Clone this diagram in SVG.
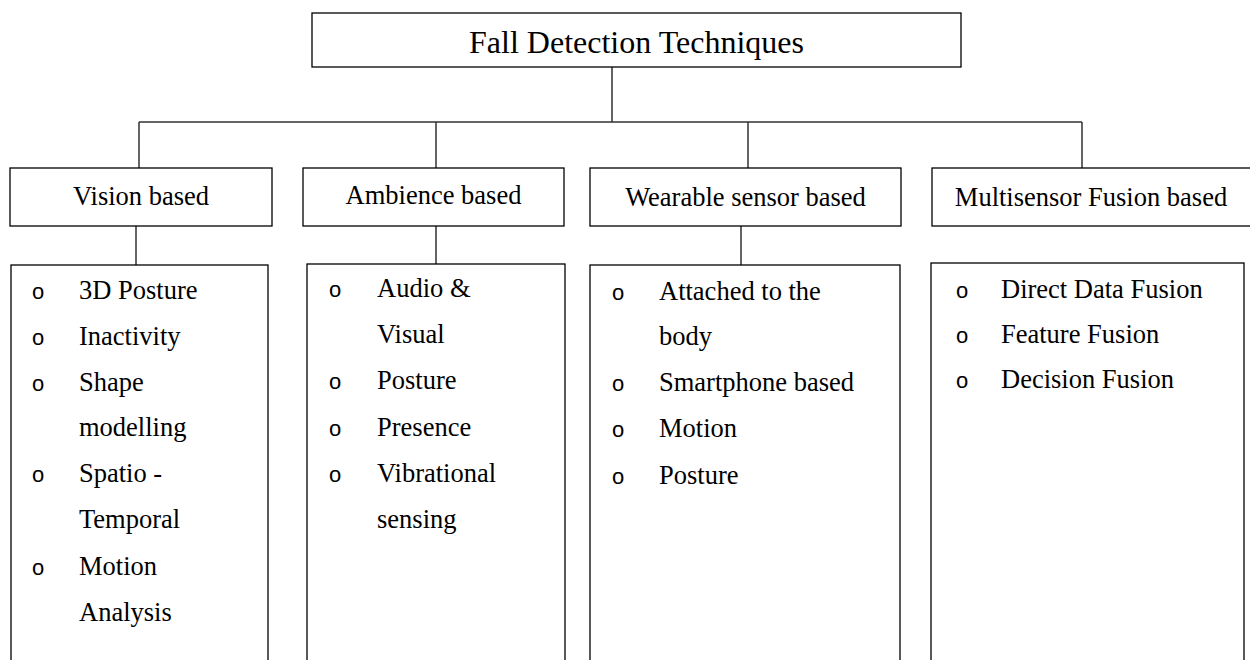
<svg xmlns="http://www.w3.org/2000/svg" width="1250" height="660" viewBox="0 0 1250 660">
<style>
.box{fill:#fff;stroke:#000;stroke-width:1.3}
.conn{fill:none;stroke:#333;stroke-width:1.5}
.t{font-family:"Liberation Serif","Times New Roman",serif;fill:#000}
.title{font-size:32px;text-anchor:middle}
.head{font-size:26.5px;text-anchor:middle}
.item{font-size:26.5px}
.bul{font-family:"Liberation Sans",Arial,sans-serif;font-size:22px;text-anchor:middle;fill:#000}
</style>
<rect width="1250" height="660" fill="#fff"/>
<g id="connectors">
<path class="conn" d="M612 67V122M139 122H1082M139 122V168M436 122V168M748 122V168M1082 122V168"/>
<path class="conn" d="M136 226V265M436 226V264M741 226V265"/>
</g>
<g id="root">
<rect class="box" x="312" y="13" width="649" height="54"/>
<text class="t title" x="636.5" y="53">Fall Detection Techniques</text>
</g>
<g id="vision">
<rect class="box" x="10" y="168" width="262" height="58"/>
<text class="t head" x="141" y="205">Vision based</text>
</g>
<g id="ambience">
<rect class="box" x="303" y="168" width="261" height="58"/>
<text class="t head" x="433.5" y="204">Ambience based</text>
</g>
<g id="wearable">
<rect class="box" x="590" y="168" width="311" height="58"/>
<text class="t head" x="745.5" y="206">Wearable sensor based</text>
</g>
<g id="multisensor">
<rect class="box" x="932" y="168" width="330" height="58"/>
<text class="t head" x="1091" y="206">Multisensor Fusion based</text>
</g>
<g id="vision-list">
<rect class="box" x="11" y="265" width="257" height="410"/>
<text class="bul" x="38" y="299">o</text>
<text class="t item" x="79" y="299">3D Posture</text>
<text class="bul" x="38" y="345">o</text>
<text class="t item" x="79" y="345">Inactivity</text>
<text class="bul" x="38" y="391">o</text>
<text class="t item" x="79" y="391">Shape</text>
<text class="t item" x="79" y="436">modelling</text>
<text class="bul" x="38" y="482">o</text>
<text class="t item" x="79" y="482">Spatio -</text>
<text class="t item" x="79" y="528">Temporal</text>
<text class="bul" x="38" y="575">o</text>
<text class="t item" x="79" y="575">Motion</text>
<text class="t item" x="79" y="621">Analysis</text>
</g>
<g id="ambience-list">
<rect class="box" x="307" y="264" width="258" height="410"/>
<text class="bul" x="335" y="297">o</text>
<text class="t item" x="377" y="297">Audio &amp;</text>
<text class="t item" x="377" y="343">Visual</text>
<text class="bul" x="335" y="389">o</text>
<text class="t item" x="377" y="389">Posture</text>
<text class="bul" x="335" y="436">o</text>
<text class="t item" x="377" y="436">Presence</text>
<text class="bul" x="335" y="482">o</text>
<text class="t item" x="377" y="482">Vibrational</text>
<text class="t item" x="377" y="528">sensing</text>
</g>
<g id="wearable-list">
<rect class="box" x="590" y="265" width="310" height="410"/>
<text class="bul" x="618" y="300">o</text>
<text class="t item" x="659" y="300">Attached to the</text>
<text class="t item" x="659" y="345">body</text>
<text class="bul" x="618" y="391">o</text>
<text class="t item" x="659" y="391">Smartphone based</text>
<text class="bul" x="618" y="437">o</text>
<text class="t item" x="659" y="437">Motion</text>
<text class="bul" x="618" y="484">o</text>
<text class="t item" x="659" y="484">Posture</text>
</g>
<g id="multisensor-list">
<rect class="box" x="931" y="263" width="313" height="410"/>
<text class="bul" x="962" y="298">o</text>
<text class="t item" x="1001" y="298">Direct Data Fusion</text>
<text class="bul" x="962" y="343">o</text>
<text class="t item" x="1001" y="343">Feature Fusion</text>
<text class="bul" x="962" y="388">o</text>
<text class="t item" x="1001" y="388">Decision Fusion</text>
</g>
</svg>
